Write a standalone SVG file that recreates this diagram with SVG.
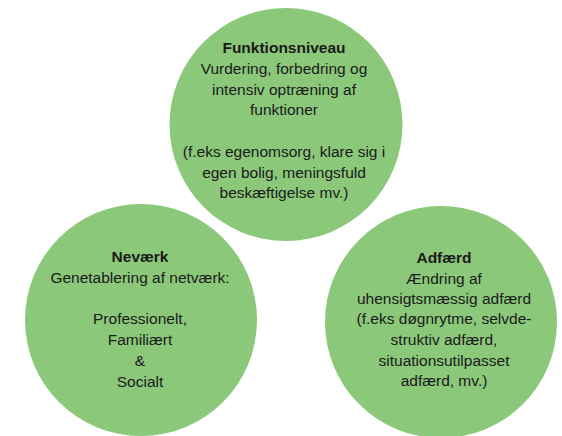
<svg xmlns="http://www.w3.org/2000/svg" width="562" height="436" viewBox="0 0 562 436">
<style>
.c{fill:#8BC87A}
text{font-family:"Liberation Sans",Arial,sans-serif;font-size:15.5px;fill:#1a1a1a;text-anchor:middle}
.b{font-weight:bold}
</style>
<rect width="562" height="436" fill="#fff"/>
<g id="funktionsniveau">
<circle class="c" cx="286" cy="124.5" r="116.5"/>
<text x="284" y="53" class="b">Funktionsniveau</text>
<text x="284" y="74">Vurdering, forbedring og</text>
<text x="284" y="95">intensiv optræning af</text>
<text x="284" y="115">funktioner</text>
<text x="284" y="157">(f.eks egenomsorg, klare sig i</text>
<text x="284" y="178">egen bolig, meningsfuld</text>
<text x="284" y="198">beskæftigelse mv.)</text>
</g>
<g id="nevaerk">
<circle class="c" cx="141" cy="320" r="116"/>
<text x="140" y="262" class="b">Neværk</text>
<text x="140" y="283">Genetablering af netværk:</text>
<text x="140" y="324">Professionelt,</text>
<text x="140" y="345">Familiært</text>
<text x="140" y="366">&amp;</text>
<text x="140" y="387">Socialt</text>
</g>
<g id="adfaerd">
<circle class="c" cx="441" cy="322" r="116"/>
<text x="444" y="263" class="b">Adfærd</text>
<text x="444" y="284">Ændring af</text>
<text x="444" y="304">uhensigtsmæssig adfærd</text>
<text x="444" y="324">(f.eks døgnrytme, selvde-</text>
<text x="444" y="345">struktiv adfærd,</text>
<text x="444" y="366">situationsutilpasset</text>
<text x="444" y="386">adfærd, mv.)</text>
</g>
<g id="connectors"/>
</svg>
